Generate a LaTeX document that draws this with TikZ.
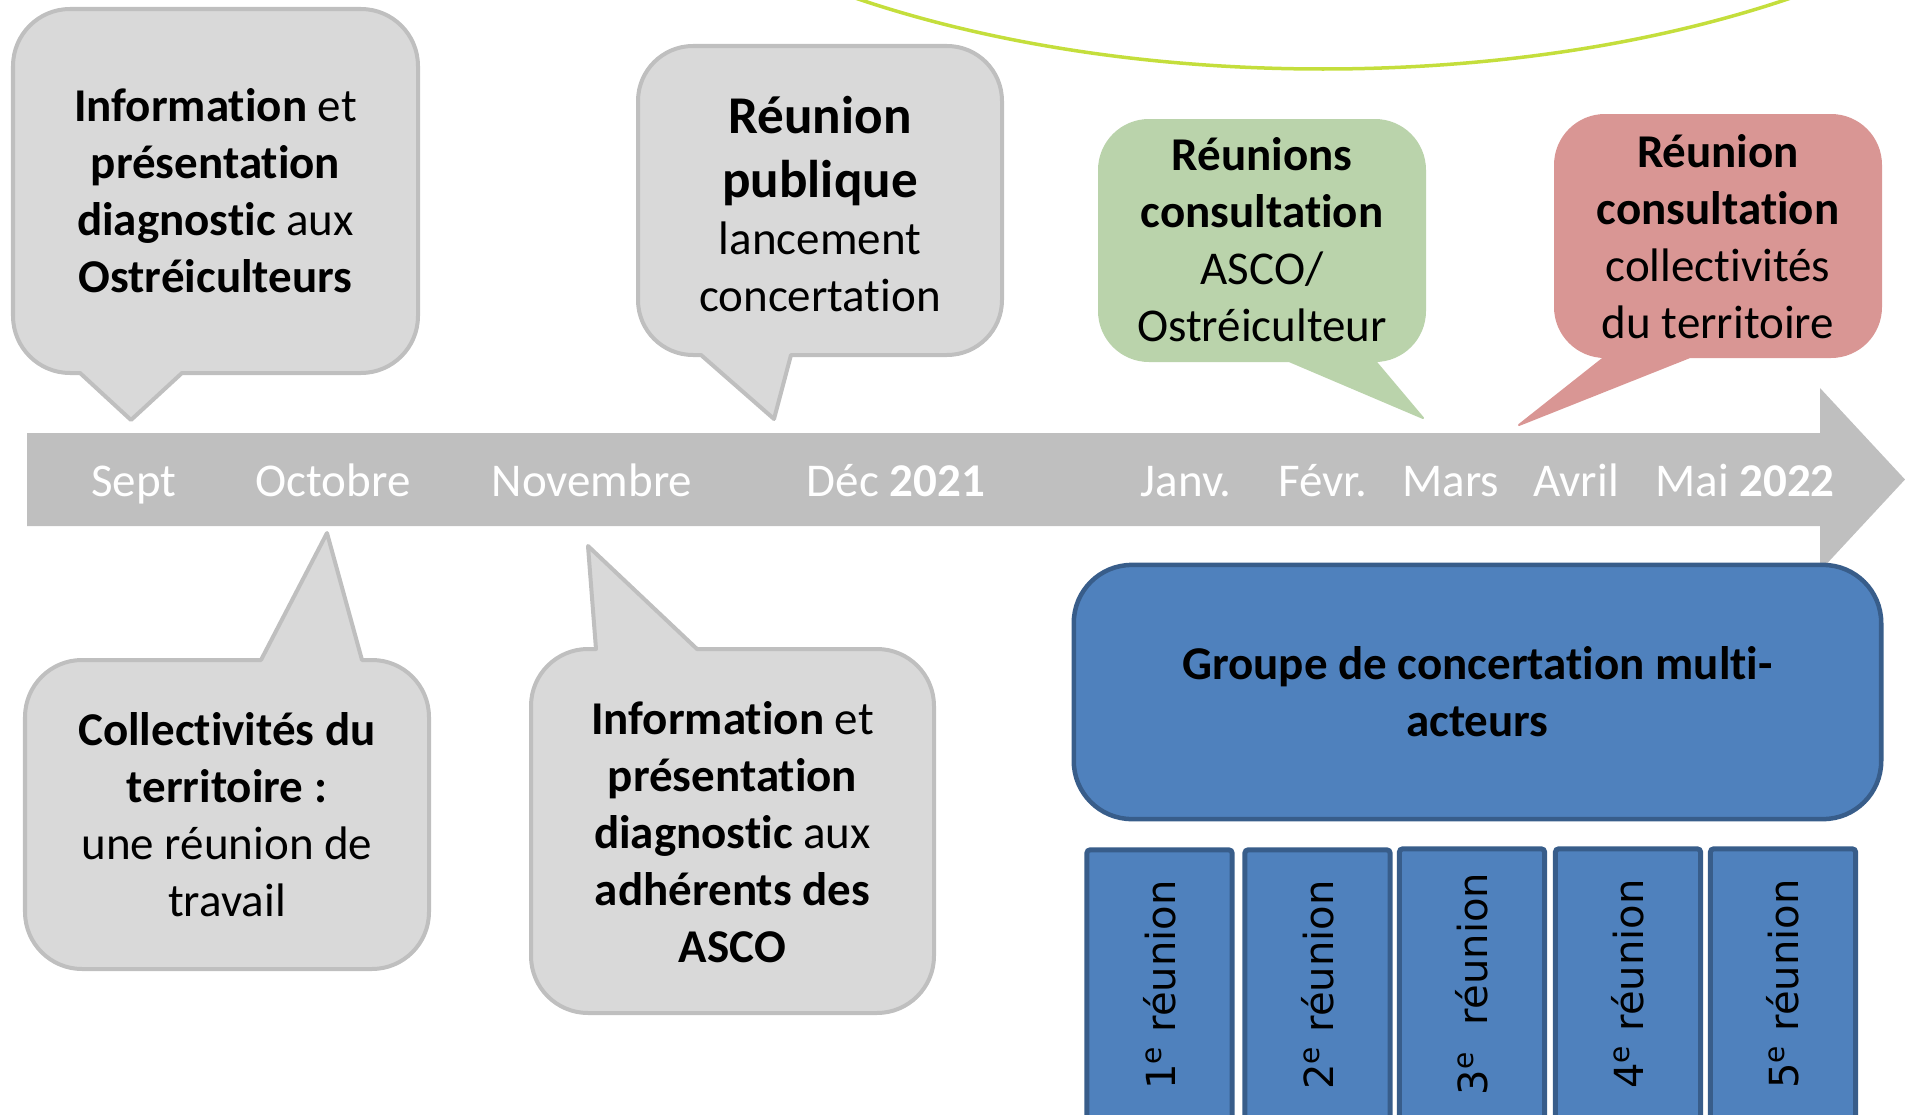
\documentclass[tikz,border=0pt]{standalone}
\usepackage{fontspec}
\setmainfont{Carlito}[Ligatures=NoCommon]
\newfontfamily\dvsans{DejaVu Sans}
\definecolor{bubgray}{HTML}{D9D9D9}
\definecolor{bubline}{HTML}{BFBFBF}
\definecolor{bargray}{HTML}{BFBFBF}
\definecolor{sage}{HTML}{BAD3AB}
\definecolor{rose}{HTML}{D99694}
\definecolor{blueA}{HTML}{4F81BD}
\definecolor{blueB}{HTML}{385D8A}
\definecolor{lime}{HTML}{C4DE3C}
% bubble with pointer on the bottom edge
% #1 style, #2 left, #3 top, #4 right, #5 bottom, #6 radius, #7 base1, #8 base2, #9 tip
\newcommand{\bubbleB}[9]{%
  \path[#1] (#2+#6,-#3) -- (#4-#6,-#3) arc[start angle=90,end angle=0,radius=#6]
    -- (#4,-#5+#6) arc[start angle=0,end angle=-90,radius=#6]
    -- (#8,-#5) -- (#9) -- (#7,-#5) -- (#2+#6,-#5)
    arc[start angle=270,end angle=180,radius=#6]
    -- (#2,-#3-#6) arc[start angle=180,end angle=90,radius=#6] -- cycle;}
% bubble with pointer on the top edge
\newcommand{\bubbleT}[9]{%
  \path[#1] (#2+#6,-#3) -- (#7,-#3) -- (#9) -- (#8,-#3) -- (#4-#6,-#3)
    arc[start angle=90,end angle=0,radius=#6]
    -- (#4,-#5+#6) arc[start angle=0,end angle=-90,radius=#6]
    -- (#2+#6,-#5) arc[start angle=270,end angle=180,radius=#6]
    -- (#2,-#3-#6) arc[start angle=180,end angle=90,radius=#6] -- cycle;}
\begin{document}
\begin{tikzpicture}[x=0.01cm,y=0.01cm,
  bubtext/.style={align=center, inner sep=0pt, font=\fontsize{13.37pt}{16.2pt}\selectfont},
  month/.style={anchor=base, inner sep=0pt, text=white, font=\fontsize{13.37pt}{16pt}\selectfont},
  graybub/.style={fill=bubgray, draw=bubline, line width=0.04cm, line join=round},
  greenbub/.style={fill=sage, draw=sage, line width=0.02cm, line join=round},
  redbub/.style={fill=rose, draw=rose, line width=0.02cm, line join=round},
  bigblue/.style={fill=blueA, draw=blueB, line width=0.045cm, rounded corners=0.58cm,
    minimum width=8.07cm, minimum height=2.54cm, align=center, inner sep=0pt,
    font=\fontsize{13.37pt}{16.2pt}\selectfont},
  smallbox/.style={fill=blueA, draw=blueB, line width=0.05cm, rounded corners=0.03cm,
    rotate=90, minimum width=2.7cm, minimum height=1.45cm, inner sep=0pt,
    font=\dvsans\fontsize{11.4pt}{13pt}\selectfont}
]
\useasboundingbox (0,0) rectangle (1905,-1115);

% green arc at the top
\begin{scope}
  \clip (0,0) rectangle (1905,-1115);
  \draw[lime, line width=0.035cm] (1323,300) ellipse [x radius=793, y radius=369];
\end{scope}

% timeline arrow
\path[fill=bargray] (27,-433) -- (1820,-433) -- (1820,-388) -- (1905,-479.5)
  -- (1820,-571) -- (1820,-526) -- (27,-526) -- cycle;

% bubbles
\bubbleB{graybub}{13}{9}{418}{373}{57}{80}{182}{131,-420}
\bubbleB{graybub}{638}{46}{1002}{355}{55}{701}{791}{774,-419}
\bubbleB{greenbub}{1099}{120}{1425}{361}{50}{1289}{1375}{1423,-418}
\bubbleB{redbub}{1555}{115}{1881}{357}{50}{1605}{1690}{1519,-425}
\bubbleT{graybub}{25}{660}{429}{969}{57}{261}{362}{327,-533}
\bubbleT{graybub}{531}{649}{934}{1013}{57}{596}{697}{588,-546}

% bubble texts
\node[bubtext] (t1) at (215.5,-191) {\textbf{Information} et\\\textbf{présentation}\\\textbf{diagnostic} aux\\\textbf{Ostréiculteurs}};
\node[bubtext] (t2) at (820,-204) {{\fontsize{15.1pt}{18pt}\selectfont\textbf{Réunion}}\\[2pt]{\fontsize{15.1pt}{18pt}\selectfont\textbf{publique}}\\lancement\\concertation};
\node[bubtext] (t3) at (1262,-240) {\textbf{Réunions}\\\textbf{consultation}\\ASCO/\\Ostréiculteur};
\node[bubtext] (t4) at (1718,-237) {\textbf{Réunion}\\\textbf{consultation}\\collectivités\\du territoire};
\node[bubtext] (t5) at (227,-815) {\textbf{Collectivités du}\\\textbf{territoire :}\\une réunion de\\travail};
\node[bubtext] (t6) at (732.5,-832) {\textbf{Information} et\\\textbf{présentation}\\\textbf{diagnostic} aux\\\textbf{adhérents des}\\\textbf{ASCO}};

% months
\node[month] (m1) at (134,-496) {Sept};
\node[month] (m2) at (333,-496) {Octobre};
\node[month] (m3) at (592,-496) {Novembre};
\node[month] (m4) at (896,-496) {Déc \textbf{2021}};
\node[month] (m5) at (1186,-496) {Janv.};
\node[month] (m6) at (1323,-496) {Févr.};
\node[month] (m7) at (1451,-496) {Mars};
\node[month] (m8) at (1576,-496) {Avril};
\node[month] (m9) at (1745,-496) {Mai \textbf{2022}};

% group box
\node[bigblue] (g) at (1477.5,-692) {\textbf{Groupe de concertation multi-}\\\textbf{acteurs}};

% meetings
\node[smallbox] (r1) at (1159.5,-985) {1\textsuperscript{e} réunion};
\node[smallbox] (r2) at (1317.5,-985) {2\textsuperscript{e} réunion};
\node[smallbox] (r3) at (1472,-984) {3\textsuperscript{e}\ \ réunion};
\node[smallbox] (r4) at (1628,-984) {4\textsuperscript{e} réunion};
\node[smallbox] (r5) at (1783,-984) {5\textsuperscript{e} réunion};
\end{tikzpicture}
\end{document}
